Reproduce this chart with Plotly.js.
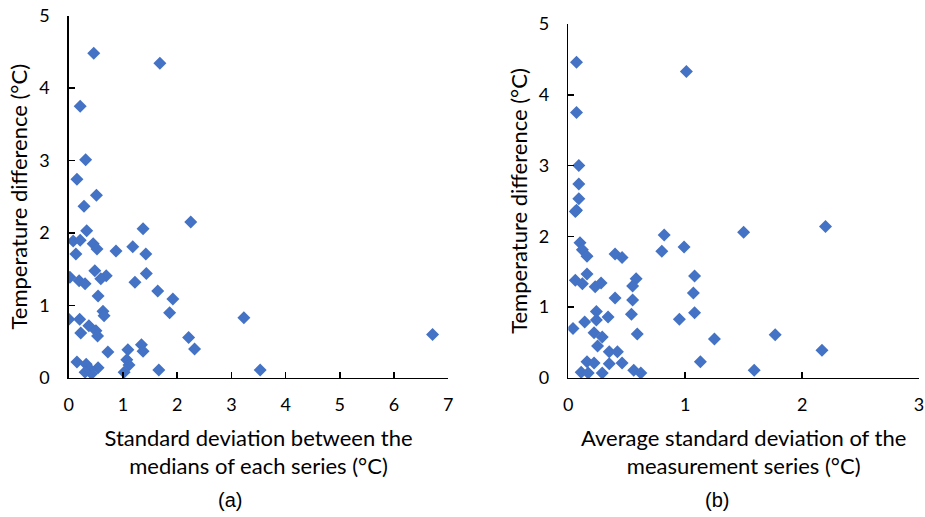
<!DOCTYPE html>
<html>
<head>
<meta charset="utf-8">
<script src="https://cdn.plot.ly/plotly-3.0.1.min.js"></script>
<style>html,body{margin:0;padding:0;background:#fff}#chart{width:925px;height:517px}</style>
</head>
<body>
<div id="chart"></div>
<script>
// Panel (a): standard deviation between medians (°C) vs temperature difference (°C)
const aX = [0.46,1.68,0.21,0.31,0.15,0.51,0.28,2.25,1.37,0.33,0.08,0.21,0.45,0.52,0.87,1.18,1.42,0.13,0.48,0.69,0.59,1.43,0.02,0.19,0.30,1.22,0.54,1.64,1.92,0.63,0.65,1.86,0.00,0.20,3.23,0.37,0.50,0.22,0.53,6.71,2.21,2.32,1.34,1.37,1.09,0.72,0.15,0.32,1.07,1.11,0.54,0.39,0.42,0.30,1.02,1.66,3.53];
const aY = [4.48,4.34,3.75,3.01,2.74,2.52,2.37,2.15,2.06,2.03,1.89,1.90,1.85,1.78,1.75,1.81,1.71,1.71,1.48,1.41,1.37,1.44,1.39,1.34,1.30,1.32,1.13,1.20,1.09,0.92,0.86,0.90,0.81,0.81,0.83,0.72,0.65,0.62,0.58,0.60,0.56,0.40,0.46,0.37,0.39,0.36,0.22,0.19,0.25,0.18,0.14,0.12,0.06,0.08,0.08,0.11,0.11];
// Panel (b): average standard deviation of the measurement series (°C) vs temperature difference (°C)
const bX = [0.07,1.01,0.07,0.09,0.09,0.09,0.07,0.06,0.82,0.99,1.50,2.20,0.10,0.12,0.16,0.40,0.46,0.80,0.16,1.08,0.06,0.12,0.23,0.28,0.58,0.55,1.07,0.40,0.55,0.54,1.08,0.95,0.34,0.24,0.14,0.04,0.24,0.22,0.29,0.59,1.25,1.77,0.25,0.35,0.42,0.46,1.13,2.17,1.59,0.11,0.17,0.16,0.22,0.29,0.35,0.56,0.62];
const bY = [4.46,4.33,3.75,3.00,2.74,2.53,2.37,2.35,2.02,1.85,2.06,2.14,1.91,1.81,1.72,1.75,1.70,1.79,1.47,1.44,1.38,1.33,1.29,1.34,1.40,1.30,1.20,1.13,1.10,0.90,0.92,0.83,0.86,0.94,0.79,0.70,0.82,0.64,0.58,0.62,0.55,0.61,0.45,0.37,0.37,0.21,0.23,0.39,0.11,0.08,0.07,0.23,0.21,0.07,0.20,0.11,0.07];

const xTitleA = 'Standard deviation between the<br>medians of each series (°C)';
const xTitleB = 'Average standard deviation of the<br>measurement series (°C)';
const yTitle = 'Temperature difference (°C)';
const panelLabels = ['(a)', '(b)'];

const FONT = 'Lato, "Noto Sans", sans-serif';
const marker = {symbol: 'diamond', size: 10, color: '#4472C4', line: {width: 0}};

const traces = [
  {x: aX, y: aY, type: 'scatter', mode: 'markers', marker: marker, xaxis: 'x', yaxis: 'y', hoverinfo: 'x+y'},
  {x: bX, y: bY, type: 'scatter', mode: 'markers', marker: marker, xaxis: 'x2', yaxis: 'y2', hoverinfo: 'x+y'}
];

const axBase = {
  showgrid: false, zeroline: false, showline: true, linecolor: '#000', linewidth: 1.5,
  ticks: 'inside', ticklen: 6, tickwidth: 1.5, tickcolor: '#000',
  ticklabeloverflow: 'allow',
  tickfont: {family: FONT, size: 18, color: '#000'}
};
const titleFont = {family: FONT, size: 22, color: '#000'};

const layout = {
  width: 925, height: 517,
  margin: {l: 0, r: 0, t: 0, b: 0},
  paper_bgcolor: '#fff', plot_bgcolor: '#fff',
  showlegend: false,
  font: {family: FONT, color: '#000'},
  xaxis: Object.assign({}, axBase, {domain: [0.0744, 0.4846], range: [0, 7], dtick: 1, anchor: 'y',
    ticklabelstandoff: 10, title: {text: xTitleA, font: titleFont, standoff: 16}}),
  yaxis: Object.assign({}, axBase, {domain: [0.2689, 0.970], range: [0, 5], dtick: 1, anchor: 'x',
    ticklabelstandoff: 14, title: {text: yTitle, font: titleFont, standoff: 5}}),
  xaxis2: Object.assign({}, axBase, {domain: [0.6144, 0.9935], range: [0, 3], dtick: 1, anchor: 'y2',
    ticklabelstandoff: 10, title: {text: xTitleB, font: titleFont, standoff: 16}}),
  yaxis2: Object.assign({}, axBase, {domain: [0.2689, 0.9536], range: [0, 5], dtick: 1, anchor: 'x2',
    ticklabelstandoff: 14, title: {text: yTitle, font: titleFont, standoff: 5}}),
  annotations: [
    {text: panelLabels[0], xref: 'paper', yref: 'paper', x: 230/925, y: 1 - 500/517, xanchor: 'center', yanchor: 'middle', showarrow: false, font: {family: 'Liberation Sans, Arial, sans-serif', size: 20, color: '#000'}},
    {text: panelLabels[1], xref: 'paper', yref: 'paper', x: 717/925, y: 1 - 500/517, xanchor: 'center', yanchor: 'middle', showarrow: false, font: {family: 'Liberation Sans, Arial, sans-serif', size: 20, color: '#000'}}
  ]
};

Plotly.newPlot('chart', traces, layout, {displayModeBar: false, staticPlot: true});
</script>
</body>
</html>
